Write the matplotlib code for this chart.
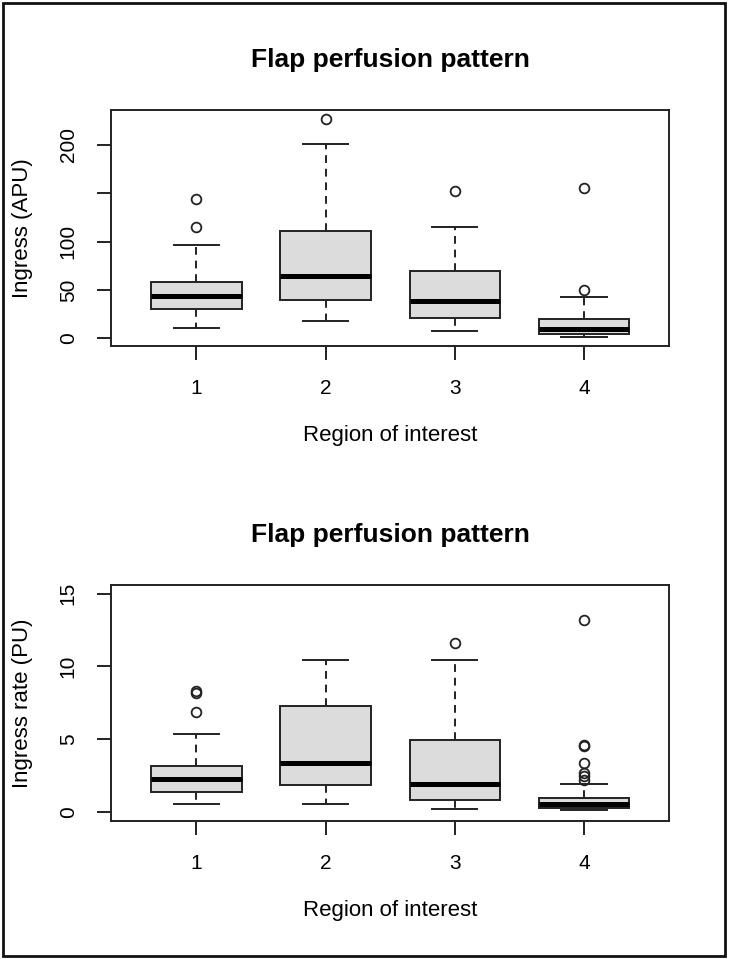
import matplotlib
matplotlib.use("Agg")
import matplotlib.pyplot as plt
from matplotlib.patches import Rectangle

plt.rcParams['font.family'] = ['Liberation Sans', 'DejaVu Sans']

regions = [1, 2, 3, 4]
title = "Flap perfusion pattern"
xlabel = "Region of interest"

# Ingress (APU) box stats
ing_whislo = [10.3, 17.9, 7.2, 1.0]
ing_q1 = [30.0, 39.3, 21.3, 4.4]
ing_med = [44.1, 64.8, 38.6, 9.3]
ing_q3 = [57.9, 110.7, 69.3, 20.3]
ing_whishi = [96.8, 201.3, 115.1, 42.7]
ing_fliers = [[114.8, 143.8], [227.0], [152.7], [50.0, 155.8]]

# Ingress rate (PU) box stats
rate_whislo = [0.52, 0.52, 0.20, 0.16]
rate_q1 = [1.37, 1.85, 0.84, 0.25]
rate_med = [2.28, 3.40, 1.92, 0.57]
rate_q3 = [3.17, 7.28, 4.95, 0.93]
rate_whishi = [5.38, 10.43, 10.43, 1.92]
rate_fliers = [[6.9, 8.15, 8.3], [], [11.6], [2.2, 2.45, 2.65, 3.4, 4.5, 4.6, 13.2]]

W, H, DPI = 729, 959, 100
fig = plt.figure(figsize=(W / DPI, H / DPI), dpi=DPI)


def axes_px(left, top, right, bottom):
    return [left / W, 1 - bottom / H, (right - left) / W, (bottom - top) / H]


def draw_panel(ax, whislo, q1, med, q3, whishi, fliers, ylabel, yticks, yticklabels, ylim):
    stats = []
    for i in range(len(regions)):
        stats.append(dict(whislo=whislo[i], q1=q1[i], med=med[i], q3=q3[i],
                          whishi=whishi[i], fliers=fliers[i], label=str(regions[i])))
    ax.bxp(stats, positions=regions, widths=0.7, patch_artist=True,
           boxprops=dict(facecolor='#dcdcdc', edgecolor='#222222', linewidth=1.4),
           medianprops=dict(color='black', linewidth=3.6, solid_capstyle='butt'),
           whiskerprops=dict(color='#222222', linewidth=1.4, linestyle=(0, (4, 3))),
           capprops=dict(color='#222222', linewidth=1.4),
           capwidths=0.35,
           flierprops=dict(marker='o', markersize=7, markerfacecolor='none',
                           markeredgecolor='#222222', markeredgewidth=1.3))
    if ylim is None:
        lo = min(whislo + [v for f in fliers for v in f])
        hi = max(whishi + [v for f in fliers for v in f])
    else:
        lo, hi = ylim
    pad = (hi - lo) * 0.04
    ax.set_ylim(lo - pad, hi + pad)
    ax.set_xlim(0.34, 4.66)
    ax.set_xticks(regions)
    ax.set_xticklabels([str(r) for r in regions])
    ax.set_yticks(yticks)
    ax.set_yticklabels(yticklabels)
    for lab in ax.get_yticklabels():
        lab.set_rotation(90)
        lab.set_va('center')
    ax.tick_params(axis='both', length=10, width=1.4, color='#222222',
                   labelsize=15, pad=14)
    for s in ax.spines.values():
        s.set_linewidth(1.4)
        s.set_color('#222222')
    ax.set_title(title, fontsize=19, fontweight='bold', pad=31)
    ax.set_xlabel(xlabel, fontsize=16)
    ax.xaxis.set_label_coords(0.5, -0.335)
    ax.set_ylabel(ylabel, fontsize=16)
    ax.yaxis.set_label_coords(-0.14, 0.5)


ax1 = fig.add_axes(axes_px(111, 110, 669.3, 346))
draw_panel(ax1, ing_whislo, ing_q1, ing_med, ing_q3, ing_whishi, ing_fliers,
           "Ingress (APU)", [0, 50, 100, 150, 200], ['0', '50', '100', '', '200'], None)

ax2 = fig.add_axes(axes_px(111, 585, 669.3, 820.7))
draw_panel(ax2, rate_whislo, rate_q1, rate_med, rate_q3, rate_whishi, rate_fliers,
           "Ingress rate (PU)", [0, 5, 10, 15], ['0', '5', '10', '15'], (0, 15))

# outer frame around the whole figure
fig.patches.append(Rectangle((3 / W, 3 / H), 722 / W, 953 / H, transform=fig.transFigure,
                             fill=False, edgecolor='#111111', linewidth=2))

fig.savefig("out.png", dpi=DPI)
